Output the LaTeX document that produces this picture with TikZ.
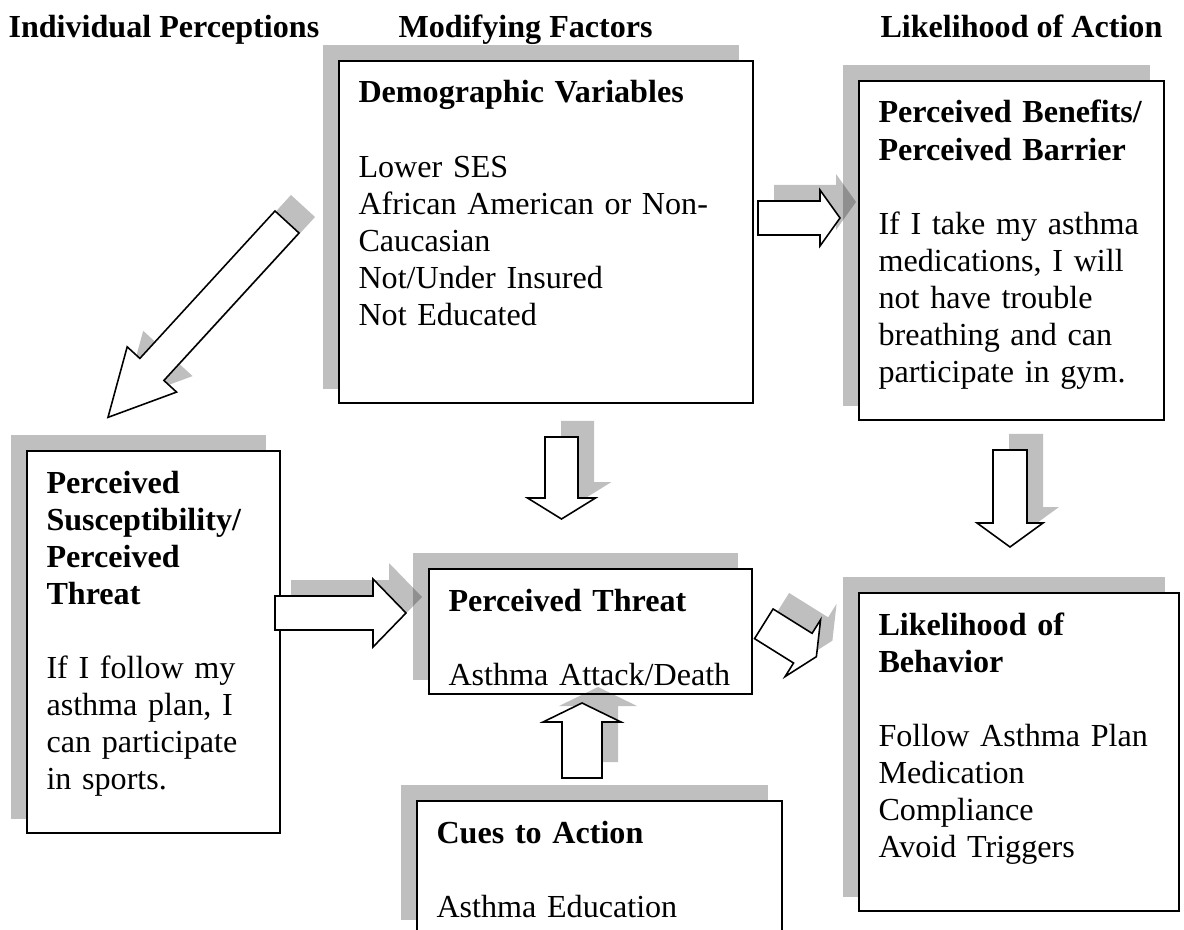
\documentclass[tikz,border=0pt]{standalone}
\usepackage{fontspec}
\setmainfont{Liberation Serif}
\usetikzlibrary{calc}
\usetikzlibrary{positioning}
\usetikzlibrary{backgrounds}

\tikzset{
  pics/blockarrow/.style args={#1/#2/#3/#4}{code={
    \path[pic actions] (0,-#2) -- ({#1-#4},-#2) -- ({#1-#4},-#3) -- (#1,0)
      -- ({#1-#4},#3) -- ({#1-#4},#2) -- (0,#2) -- cycle;
  }},
}

\begin{document}
\begin{tikzpicture}[x=0.38pt, y=-0.38pt,
  box/.style 2 args={draw, line width=0.8pt, fill=white, inner sep=0pt,
    anchor=north west, minimum width=#1*0.38pt, minimum height=#2*0.38pt},
  boxtext/.style={anchor=base west, inner sep=0pt, align=left, text width=10cm,
    font=\fontsize{12.2}{14.1}\selectfont},
  header/.style={anchor=base west, inner sep=0pt, font=\fontsize{12.2}{14.1}\selectfont\bfseries},
  boxshade/.style={fill=black, fill opacity=0.25},
  arrowshade/.style={fill=black, fill opacity=0.25},
  arrowbody/.style={draw, fill=white, line width=0.6pt}]

  \path[use as bounding box] (0,0) rectangle (1184,930);
  \clip (0,0) rectangle (1184,930);

  % column headers
  \node[header] (hdind) at (8,38) {Individual Perceptions};
  \node[header] (hdmod) at (398,38) {Modifying Factors};
  \node[header] (hdlik) at (880,38) {Likelihood of Action};

  % boxes
  \node[box={414}{342}] (demo) at (338,60) {};
  \node[box={305}{339}] (ben) at (858,80) {};
  \node[box={253}{382}] (susc) at (26,450) {};
  \node[box={323}{125}] (threat) at (428,568) {};
  \node[box={365}{133}] (cues) at (416,800) {};
  \node[box={320}{318}] (behav) at (858,592) {};

  \begin{scope}[on background layer]
    \foreach \b in {demo,ben,susc,threat,cues,behav}
      \fill[boxshade] ([shift={(-15,-15)}]\b.north west) rectangle ([shift={(-15,-15)}]\b.south east);
  \end{scope}

  % box texts
  \node[boxtext] (demotext) at ([shift={(20,43)}]demo.north west)
    {\textbf{Demographic Variables}\\[\baselineskip]
     Lower SES\\ African American or Non-\\ Caucasian\\ Not/Under Insured\\ Not Educated};
  \node[boxtext] (bentext) at ([shift={(20,43)}]ben.north west)
    {\textbf{Perceived Benefits/}\\ \textbf{Perceived Barrier}\\[\baselineskip]
     If I take my asthma\\ medications, I will\\ not have trouble\\ breathing and can\\ participate in gym.};
  \node[boxtext] (susctext) at ([shift={(20,43)}]susc.north west)
    {\textbf{Perceived}\\ \textbf{Susceptibility/}\\ \textbf{Perceived}\\ \textbf{Threat}\\[\baselineskip]
     If I follow my\\ asthma plan, I\\ can participate\\ in sports.};
  \node[boxtext] (threattext) at ([shift={(20,43)}]threat.north west)
    {\textbf{Perceived Threat}\\[\baselineskip] Asthma Attack/Death};
  \node[boxtext] (cuestext) at ([shift={(20,43)}]cues.north west)
    {\textbf{Cues to Action}\\[\baselineskip] Asthma Education};
  \node[boxtext] (behavtext) at ([shift={(20,43)}]behav.north west)
    {\textbf{Likelihood of}\\ \textbf{Behavior}\\[\baselineskip]
     Follow Asthma Plan\\ Medication\\ Compliance\\ Avoid Triggers};

  % block arrows (tail centres)
  \coordinate (demo-ben) at (758,218);
  \coordinate (susc-threat) at (275,613);
  \coordinate (demo-threat) at (561.5,437);
  \coordinate (ben-behav) at (1010,450);
  \coordinate (cues-threat) at (582,778);
  \coordinate (threat-behav) at (763.8,623.8);
  \coordinate (demo-susc) at (287,222);

  \pic[arrowshade] at ([shift={(16,-16)}]demo-ben) {blockarrow=82/17/28/20};
  \pic[arrowbody] at (demo-ben) {blockarrow=82/17/28/20};

  \pic[arrowshade] at ([shift={(16,-16)}]susc-threat) {blockarrow=131/17/34/33};
  \pic[arrowbody] at (susc-threat) {blockarrow=131/17/34/33};

  \pic[arrowshade, rotate=-90] at ([shift={(16,-16)}]demo-threat) {blockarrow=82/16.5/34/21};
  \pic[arrowbody, rotate=-90] at (demo-threat) {blockarrow=82/16.5/34/21};

  \pic[arrowshade, rotate=-90] at ([shift={(16,-16)}]ben-behav) {blockarrow=97/17/33/24};
  \pic[arrowbody, rotate=-90] at (ben-behav) {blockarrow=97/17/33/24};

  \pic[arrowshade, rotate=90] at ([shift={(16,-16)}]cues-threat) {blockarrow=75/20/39/19};
  \pic[arrowbody, rotate=90] at (cues-threat) {blockarrow=75/20/39/19};

  \pic[arrowshade, rotate=-32] at ([shift={(16,-16)}]threat-behav) {blockarrow=62/17.5/33.5/16};
  \pic[arrowbody, rotate=-32] at (threat-behav) {blockarrow=62/17.5/33.5/16};

  \pic[arrowshade, rotate=227.5] at ([shift={(16,-16)}]demo-susc) {blockarrow=265/16.3/33.5/65};
  \pic[arrowbody, rotate=227.5] at (demo-susc) {blockarrow=265/16.3/33.5/65};

\end{tikzpicture}
\end{document}
